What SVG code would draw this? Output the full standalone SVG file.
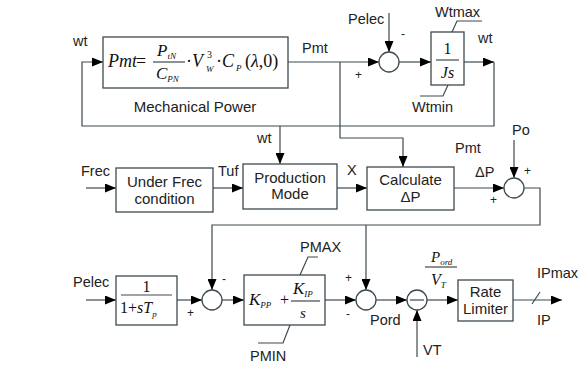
<svg xmlns="http://www.w3.org/2000/svg" width="584" height="372" viewBox="0 0 584 372">
<style>
.box{fill:#fff;stroke:#3d4a50;stroke-width:1.3}
.ln{fill:none;stroke:#3d4a50;stroke-width:1.2}
.t{font-family:"Liberation Sans",Arial,sans-serif;font-size:14.5px;fill:#222}
.tc{font-family:"Liberation Sans",Arial,sans-serif;font-size:15px;fill:#222;text-anchor:middle}
.m{font-family:"Liberation Serif","Times New Roman",serif;font-style:italic;fill:#111}
.mr{font-family:"Liberation Serif","Times New Roman",serif;fill:#111}
.sg{font-family:"Liberation Sans",Arial,sans-serif;font-size:12px;fill:#222}
</style>
<defs>
<marker id="ah" markerWidth="11" markerHeight="9" refX="11" refY="4.5" orient="auto" markerUnits="userSpaceOnUse">
<path d="M0,0 L11,4.5 L0,9 z" fill="#000"/>
</marker>
</defs>
<rect width="584" height="372" fill="#fff"/>

<g id="connectors">
<path class="ln" d="M288,62 H379" marker-end="url(#ah)"/>
<path class="ln" d="M389,13 V52" marker-end="url(#ah)"/>
<path class="ln" d="M399,62 H431" marker-end="url(#ah)"/>
<path class="ln" d="M464,62 H494" marker-end="url(#ah)"/>
<path class="ln" d="M494,62 V126 H82 V62 H103" marker-end="url(#ah)"/>
<path class="ln" d="M340,62 V138 H403 V167" marker-end="url(#ah)"/>
<path class="ln" d="M280,126 V164" marker-end="url(#ah)"/>
<path class="ln" d="M86,188 H116" marker-end="url(#ah)"/>
<path class="ln" d="M213,188 H243" marker-end="url(#ah)"/>
<path class="ln" d="M337,188 H367" marker-end="url(#ah)"/>
<path class="ln" d="M454,188 H504" marker-end="url(#ah)"/>
<path class="ln" d="M514,140 V178" marker-end="url(#ah)"/>
<path class="ln" d="M524,188 H540 V225 H212 V290" marker-end="url(#ah)"/>
<path class="ln" d="M366,225 V290" marker-end="url(#ah)"/>
<path class="ln" d="M86,300 H116" marker-end="url(#ah)"/>
<path class="ln" d="M177,300 H202" marker-end="url(#ah)"/>
<path class="ln" d="M222,300 H244" marker-end="url(#ah)"/>
<path class="ln" d="M325,300 H356" marker-end="url(#ah)"/>
<path class="ln" d="M376,300 H407" marker-end="url(#ah)"/>
<path class="ln" d="M417,357 V310" marker-end="url(#ah)"/>
<path class="ln" d="M427,300 H458" marker-end="url(#ah)"/>
<path class="ln" d="M513,300 H562" marker-end="url(#ah)"/>
<path class="ln" d="M532,304 L540,292"/>
</g>

<g id="labels">
<text class="t" x="73" y="46">wt</text>
<text class="t" x="302" y="53">Pmt</text>
<text class="t" x="348" y="24">Pelec</text>
<text class="sg" x="401" y="38">-</text>
<text class="sg" x="355" y="79">+</text>
<text class="t" x="478" y="43">wt</text>
<text class="t" x="257" y="143">wt</text>
<text class="t" x="81" y="176">Frec</text>
<text class="t" x="218" y="176">Tuf</text>
<text class="t" x="347" y="175">X</text>
<text class="t" x="455" y="153">Pmt</text>
<text class="t" x="475" y="177">ΔP</text>
<text class="t" x="512" y="135">Po</text>
<text class="sg" x="524" y="175">+</text>
<text class="sg" x="490" y="204">+</text>
<text class="t" x="73" y="287">Pelec</text>
<text class="sg" x="187" y="317">+</text>
<text class="sg" x="222" y="283">-</text>
<text class="sg" x="345" y="282">+</text>
<text class="sg" x="346" y="318">-</text>
<text class="t" x="370" y="325">Pord</text>
<text class="t" x="423" y="355">VT</text>
<text class="t" x="537" y="278">IPmax</text>
<text class="t" x="537" y="325">IP</text>
<text class="m" x="431" y="262" font-size="15">P<tspan font-size="9" dy="3">ord</tspan></text>
<line class="ln" x1="425" y1="267" x2="457" y2="267"/>
<text class="m" x="431" y="285" font-size="16">V<tspan font-size="9" dy="3">T</tspan></text>
</g>

<g id="mech">
<rect class="box" x="103" y="37" width="185" height="51"/>
<text class="m" x="108" y="67" font-size="18">Pmt</text>
<text class="mr" x="136" y="67" font-size="18">=</text>
<text class="m" x="157" y="56" font-size="17">P<tspan font-size="9" dy="3">tN</tspan></text>
<line class="ln" x1="153" y1="62" x2="185" y2="62"/>
<text class="m" x="156" y="79" font-size="17">C<tspan font-size="9" dy="3">PN</tspan></text>
<text class="mr" x="186" y="67" font-size="18">·</text>
<text class="m" x="192" y="67" font-size="18">V</text>
<text class="mr" x="207" y="58" font-size="10">3</text>
<text class="m" x="206" y="72" font-size="9">W</text>
<text class="mr" x="216" y="67" font-size="18">·</text>
<text class="m" x="222" y="67" font-size="18">C</text>
<text class="m" x="236" y="71" font-size="9">P</text>
<text class="mr" x="245" y="67" font-size="18">(<tspan font-style="italic">λ</tspan>,0)</text>
<text class="tc" x="195" y="112">Mechanical Power</text>
</g>

<g id="sum1">
<circle class="box" cx="389" cy="62" r="10"/>
</g>

<g id="integrator">
<rect class="box" x="431" y="32" width="33" height="53"/>
<text class="mr" x="447.5" y="54" font-size="16" text-anchor="middle">1</text>
<line class="ln" x1="436" y1="60" x2="459" y2="60"/>
<text class="m" x="447.5" y="78" font-size="16" text-anchor="middle">Js</text>
<polyline class="ln" points="452,32 457,21 482,21"/>
<text class="t" x="435" y="17">Wtmax</text>
<polyline class="ln" points="448,85 443,96 420,96"/>
<text class="t" x="412" y="112">Wtmin</text>
</g>

<g id="underfrec">
<rect class="box" x="116" y="168" width="97" height="44"/>
<text class="tc" x="164.5" y="187">Under Frec</text>
<text class="tc" x="164.5" y="204">condition</text>
</g>

<g id="production">
<rect class="box" x="243" y="164" width="94" height="45"/>
<text class="tc" x="290" y="183">Production</text>
<text class="tc" x="290" y="199">Mode</text>
</g>

<g id="calc">
<rect class="box" x="367" y="167" width="87" height="43"/>
<text class="tc" x="410.5" y="185">Calculate</text>
<text class="tc" x="410.5" y="202">ΔP</text>
</g>

<g id="sum2">
<circle class="box" cx="514" cy="188" r="10"/>
</g>

<g id="filter">
<rect class="box" x="116" y="276" width="61" height="49"/>
<text class="mr" x="146.5" y="292" font-size="16" text-anchor="middle">1</text>
<line class="ln" x1="121" y1="295" x2="172" y2="295"/>
<text class="mr" x="120" y="313" font-size="16">1+<tspan font-style="italic">sT</tspan><tspan font-style="italic" font-size="9" dy="4">p</tspan></text>
</g>

<g id="sum3">
<circle class="box" cx="212" cy="300" r="10"/>
</g>

<g id="pi">
<rect class="box" x="244" y="275" width="81" height="50"/>
<text class="m" x="249" y="305" font-size="17">K<tspan font-size="9" dy="3">PP</tspan></text>
<text class="mr" x="280" y="305" font-size="16">+</text>
<text class="m" x="293" y="294" font-size="17">K<tspan font-size="9" dy="3">IP</tspan></text>
<line class="ln" x1="291" y1="301" x2="320" y2="301"/>
<text class="m" x="300" y="318" font-size="15">s</text>
<polyline class="ln" points="300,275 308,257 318,257"/>
<text class="t" x="300" y="252">PMAX</text>
<polyline class="ln" points="290,325 283,343 258,343"/>
<text class="t" x="250" y="361">PMIN</text>
</g>

<g id="sum4">
<circle class="box" cx="366" cy="300" r="10"/>
</g>

<g id="div">
<circle class="box" cx="417" cy="300" r="10"/>
<line class="ln" x1="410" y1="300" x2="424" y2="300"/>
</g>

<g id="ratelimiter">
<rect class="box" x="458" y="280" width="55" height="41"/>
<text class="tc" x="485.5" y="297">Rate</text>
<text class="tc" x="485.5" y="314">Limiter</text>
</g>
</svg>
